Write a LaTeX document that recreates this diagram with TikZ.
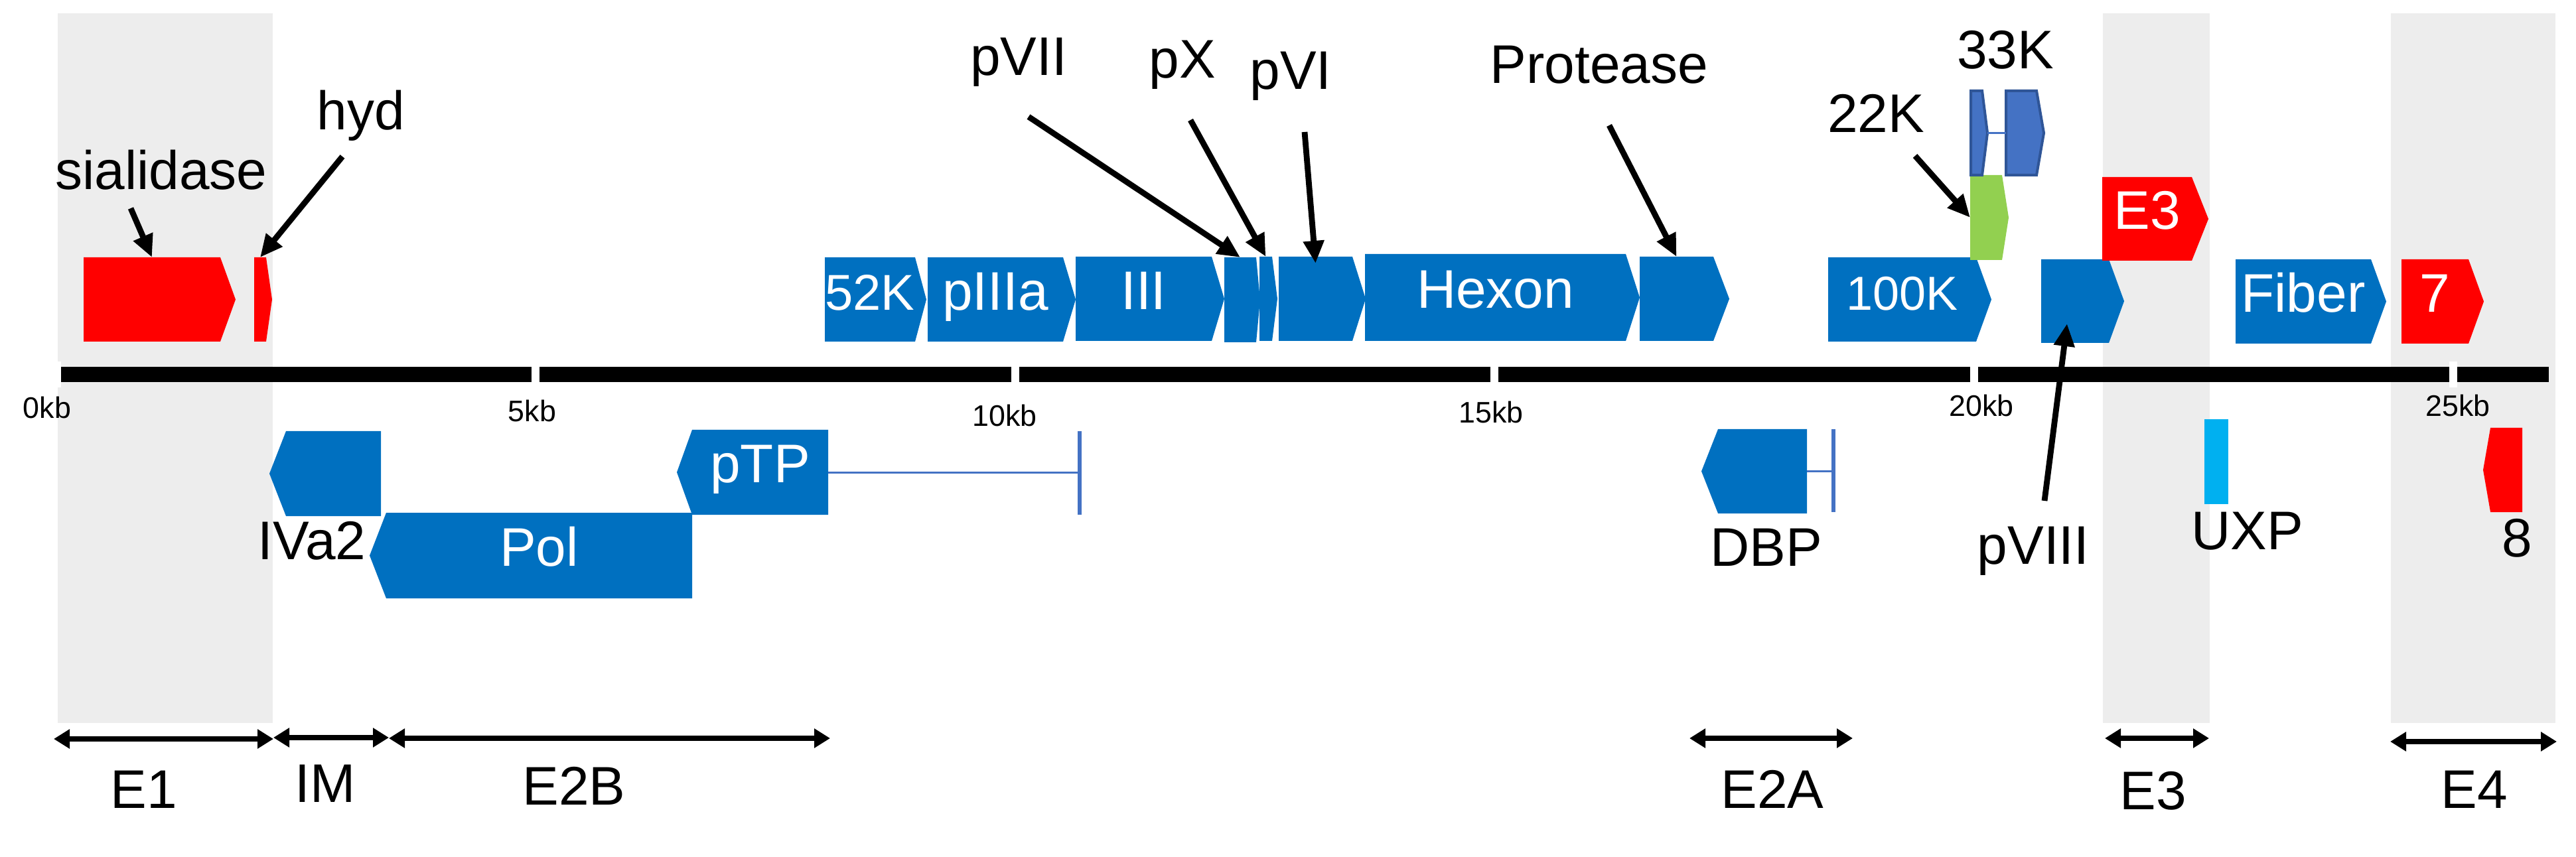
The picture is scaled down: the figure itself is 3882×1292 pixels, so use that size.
\documentclass[tikz,border=0pt]{standalone}
\usepackage{fontspec}
\setmainfont{Liberation Sans}
\usetikzlibrary{arrows.meta,calc}
\definecolor{adBlue}{HTML}{0070C0}
\definecolor{adRed}{HTML}{FF0000}
\definecolor{adGreen}{HTML}{92D050}
\definecolor{adSky}{HTML}{00B0F0}
\definecolor{adSlate}{HTML}{4472C4}
\definecolor{adSlateDark}{HTML}{2F5597}
\definecolor{adGrey}{HTML}{EDEDED}
\pgfdeclarelayer{back}
\pgfsetlayers{back,main}
% gene bodies: rectangle node + pointed end, drawn behind the node text
\newcommand{\geneR}[3]{\begin{pgfonlayer}{back}\path[#1] (#2.north west) -- (#2.north east) -- ($(#2.east)+(#3,0)$) -- (#2.south east) -- (#2.south west) -- cycle;\end{pgfonlayer}}
\newcommand{\geneL}[3]{\begin{pgfonlayer}{back}\path[#1] (#2.north east) -- (#2.north west) -- ($(#2.west)-(#3,0)$) -- (#2.south west) -- (#2.south east) -- cycle;\end{pgfonlayer}}

\begin{document}
\begin{tikzpicture}[x=0.25pt,y=-0.25pt,line cap=butt,line join=miter]
\useasboundingbox (0,0) rectangle (3882,1292);
\tikzset{gene/.style={rectangle,inner sep=0pt,outer sep=0pt,text=white,font=\fontsize{20.5}{24}\selectfont,text height=15pt,text depth=7pt},gsize/.style 2 args={minimum width=#1*0.25pt,minimum height=#2*0.25pt},cdsBlue/.style={fill=adBlue},cdsRed/.style={fill=adRed},cdsGreen/.style={fill=adGreen},cdsSlate/.style={fill=adSlate,draw=adSlateDark,line width=1pt},txt/.style={font=\fontsize{20.5}{24}\selectfont,anchor=base,inner sep=0pt},kb/.style={font=\fontsize{11.2}{13}\selectfont,anchor=base,inner sep=0pt},callout/.style={draw=black,line width=2.2pt,-{Triangle[length=8.5pt,width=7.5pt]}},regionspan/.style={draw=black,line width=2.2pt,{Triangle[length=6pt,width=7pt]}-{Triangle[length=6pt,width=7pt]}},intron/.style={draw=adSlate,line width=0.75pt},tickmark/.style={draw=white,line width=3pt}}
\begin{pgfonlayer}{back}
\fill[white] (0,0) rectangle (3882,1292);
\fill[adGrey] (87,20) rectangle (411,1090);
\fill[adGrey] (3169,20) rectangle (3330,1090);
\fill[adGrey] (3603,20) rectangle (3851,1090);
\end{pgfonlayer}
% genome axis
\fill[black] (89,553) rectangle (3841,576);
\draw[tickmark] (86,545) -- (86,584); \draw[tickmark] (806.5,545) -- (806.5,584); \draw[tickmark] (1529.5,545) -- (1529.5,584);
\draw[tickmark] (2251.5,545) -- (2251.5,584); \draw[tickmark] (2975,545) -- (2975,584); \draw[tickmark] (3697,545) -- (3697,584);
\node[kb] (kb0) at (71,630) {0kb}; \node[kb] (kb5) at (802,636) {5kb}; \node[kb] (kb10) at (1514,643) {10kb};
\node[kb] (kb15) at (2247,638) {15kb}; \node[kb] (kb20) at (2986,628) {20kb}; \node[kb] (kb25) at (3704,628) {25kb};
% forward strand
\node[gene,gsize={206}{127}] (gSial) at (229,451.5) {}; \geneR{cdsRed}{gSial}{23}
\node[gene,gsize={18}{127}] (gHyd) at (392,451.5) {}; \geneR{cdsRed}{gHyd}{9}
\node[gene,gsize={136}{127},font=\fontsize{19}{22}\selectfont] (g52K) at (1311,451.5) {52K}; \geneR{cdsBlue}{g52K}{17}
\node[gene,gsize={204}{127}] (gPIIIa) at (1500,451.5) {pIIIa}; \geneR{cdsBlue}{gPIIIa}{19}
\node[gene,gsize={205}{127}] (gIII) at (1723.5,450.5) {III}; \geneR{cdsBlue}{gIII}{19}
\node[gene,gsize={48}{128}] (gPVII) at (1869,452) {}; \geneR{cdsBlue}{gPVII}{6}
\node[gene,gsize={19}{127}] (gPX) at (1907.5,450.5) {}; \geneR{cdsBlue}{gPX}{8}
\node[gene,gsize={111}{127}] (gPVI) at (1982.5,450.5) {}; \geneR{cdsBlue}{gPVI}{20}
\node[gene,gsize={393}{131}] (gHexon) at (2253.5,448.5) {Hexon}; \geneR{cdsBlue}{gHexon}{21}
\node[gene,gsize={111}{127}] (gProt) at (2526.5,450.5) {}; \geneR{cdsBlue}{gProt}{24}
\node[gene,gsize={223}{127},font=\fontsize{18}{21}\selectfont] (g100K) at (2866.5,451.5) {100K}; \geneR{cdsBlue}{g100K}{23}
\node[gene,gsize={48}{128}] (gK22) at (2993,328) {}; \geneR{cdsGreen}{gK22}{10}
\node[gene,gsize={17}{127}] (gK33a) at (2978.5,200.5) {}; \geneR{cdsSlate}{gK33a}{8}
\node[gene,gsize={46}{127}] (gK33b) at (3046,200.5) {}; \geneR{cdsSlate}{gK33b}{11}
\draw[intron] ($(gK33a.east)+(8,0)$) -- (gK33b.west);
\node[gene,gsize={102}{126}] (gPVIII) at (3127,454) {}; \geneR{cdsBlue}{gPVIII}{23}
\node[gene,gsize={135}{126}] (gE3) at (3235.5,330) {E3}; \geneR{cdsRed}{gE3}{25}
\node[gene,gsize={204}{127}] (gFiber) at (3471,454.5) {Fiber}; \geneR{cdsBlue}{gFiber}{23}
\node[gene,gsize={101}{127}] (g7) at (3669.5,454.5) {7}; \geneR{cdsRed}{g7}{23}
% reverse strand
\node[gene,gsize={143}{128}] (gIVa2) at (502.5,714) {}; \geneL{cdsBlue}{gIVa2}{25}
\node[gene,gsize={461}{129}] (gPol) at (812.5,837.5) {Pol}; \geneL{cdsBlue}{gPol}{25}
\node[gene,gsize={205}{128}] (gPTP) at (1145.5,712) {pTP}; \geneL{cdsBlue}{gPTP}{23}
\node[gene,gsize={6}{126},fill=adSlate] (gPTPx) at (1627,713) {};
\draw[intron] (gPTP.east) -- (gPTP.east -| gPTPx.west);
\node[gene,gsize={134}{127}] (gDBP) at (2656,710.5) {}; \geneL{cdsBlue}{gDBP}{25}
\node[gene,gsize={6}{125},fill=adSlate] (gDBPx) at (2763,709.5) {};
\draw[intron] (gDBP.east) -- (gDBP.east -| gDBPx.west);
\node[gene,gsize={36}{128},fill=adSky] (gUXP) at (3340,696) {};
\node[gene,gsize={48}{127}] (g8) at (3777,708.5) {}; \geneL{cdsRed}{g8}{11}
% gene names
\node[txt] (lSial) at (243,286) {sialidase}; \node[txt] (lHyd) at (544,196) {hyd};
\node[txt] (lPVII) at (1535,114) {pVII}; \node[txt] (lPX) at (1782,118) {pX}; \node[txt] (lPVI) at (1945,135) {pVI};
\node[txt] (lProt) at (2410,126) {Protease}; \node[txt] (lK33) at (3022,104) {33K}; \node[txt] (lK22) at (2827,200) {22K};
\node[txt] (lIVa2) at (470,843) {IVa2}; \node[txt] (lDBP) at (2662,853) {DBP}; \node[txt] (lPVIII) at (3064,850) {pVIII};
\node[txt] (lUXP) at (3387,828) {UXP}; \node[txt] (l8) at (3793,839) {8};
\coordinate (tSial) at (197,314); \coordinate (tHyd) at (516,236); \coordinate (tPVII) at (1550,176); \coordinate (tPX) at (1794,181);
\coordinate (tPVI) at (1966,199); \coordinate (tProt) at (2425,189); \coordinate (tK22) at (2886,235); \coordinate (tPVIII) at (3081,755);
\draw[callout] (tSial) -- (gSial.north); \draw[callout] (tHyd) -- (gHyd.north);
\draw[callout] (tPVII) -- (gPVII.north); \draw[callout] (tPX) -- (gPX.north); \draw[callout] (tPVI) -- ($(gPVI.north)+(0,10)$);
\draw[callout] (tProt) -- (gProt.north); \draw[callout] (tK22) -- (gK22.west); \draw[callout] (tPVIII) -- ($(gPVIII.south)+(-12,-29)$);
% transcription regions
\coordinate (sE1a) at (81,1114); \coordinate (sE1b) at (412,1114); \coordinate (sIMa) at (412,1112); \coordinate (sIMb) at (586,1112);
\coordinate (sE2Ba) at (586,1113); \coordinate (sE2Bb) at (1251,1113); \coordinate (sE2Aa) at (2546,1113); \coordinate (sE2Ab) at (2792,1113);
\coordinate (sE3a) at (3172,1113); \coordinate (sE3b) at (3329,1113); \coordinate (sE4a) at (3602,1118); \coordinate (sE4b) at (3853,1118);
\draw[regionspan] (sE1a) -- (sE1b); \draw[regionspan] (sIMa) -- (sIMb); \draw[regionspan] (sE2Ba) -- (sE2Bb);
\draw[regionspan] (sE2Aa) -- (sE2Ab); \draw[regionspan] (sE3a) -- (sE3b); \draw[regionspan] (sE4a) -- (sE4b);
\node[txt] (rE1) at (217,1218) {E1}; \node[txt] (rIM) at (490,1209) {IM}; \node[txt] (rE2B) at (865,1213) {E2B};
\node[txt] (rE2A) at (2671,1218) {E2A}; \node[txt] (rE3) at (3245,1220) {E3}; \node[txt] (rE4) at (3729,1218) {E4};
\end{tikzpicture}
\end{document}
